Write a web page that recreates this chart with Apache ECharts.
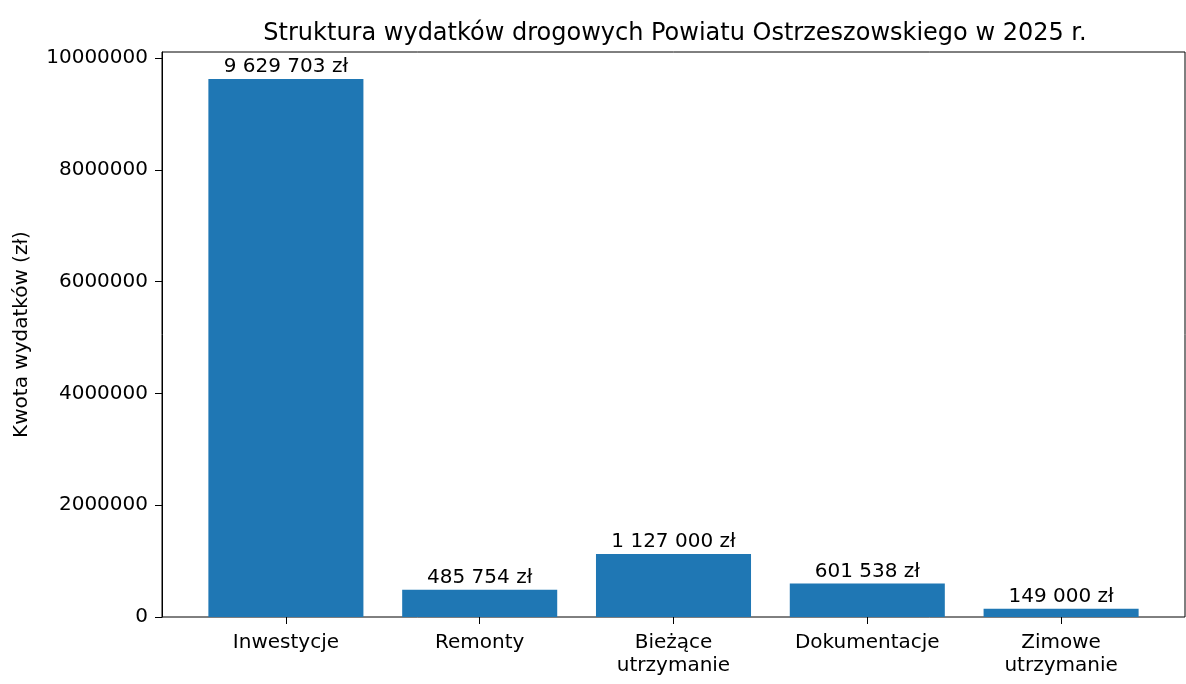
<!DOCTYPE html>
<html>
<head>
<meta charset="utf-8">
<script src="https://cdn.jsdelivr.net/npm/echarts@6/dist/echarts.min.js"></script>
<style>
  html, body { margin: 0; padding: 0; background: #fff; }
  #wydatkiChart { width: 1186px; height: 684px; }
</style>
</head>
<body>
<div id="wydatkiChart"></div>
<script>
// dane
var categories = ['Inwestycje', 'Remonty', 'Bieżące\nutrzymanie', 'Dokumentacje', 'Zimowe\nutrzymanie'];
var values = [9629703, 485754, 1127000, 601538, 149000];
var yMax = 10111188;
var yStep = 2000000;

var FONT = 'DejaVu Sans';

function zl(v) {
  return String(v).replace(/\B(?=(\d{3})+(?!\d))/g, ' ') + ' zł';
}

var chart = echarts.init(document.getElementById('wydatkiChart'));

var option = {
  animation: false,
  textStyle: { fontFamily: FONT },
  title: {
    text: 'Struktura wydatków drogowych Powiatu Ostrzeszowskiego w 2025 r.',
    left: 670,
    textAlign: 'center',
    top: 17,
    textStyle: { fontFamily: FONT, fontSize: 24, fontWeight: 'normal', color: '#000' }
  },
  grid: [
    // ramka + oś Y
    { left: 162, right: 1, top: 52, bottom: 67, show: true, borderColor: '#000', borderWidth: 1, backgroundColor: 'transparent' },
    // słupki
    { left: 189, right: 28, top: 52, bottom: 67 }
  ],
  xAxis: [
    { gridIndex: 0, type: 'value', min: 0, max: 1, show: false },
    {
      gridIndex: 1,
      type: 'category',
      data: categories,
      axisLine: { show: false },
      axisTick: { show: true, alignWithLabel: true, length: 7, lineStyle: { color: '#000', width: 1 } },
      axisLabel: { color: '#000', fontSize: 20, lineHeight: 23, margin: 14, fontFamily: FONT }
    }
  ],
  yAxis: [
    {
      gridIndex: 0,
      type: 'value',
      min: 0,
      max: yMax,
      interval: yStep,
      name: 'Kwota wydatków (zł)',
      nameLocation: 'middle',
      nameGap: 130,
      nameTextStyle: { color: '#000', fontSize: 20, fontFamily: FONT },
      axisLine: { show: true, lineStyle: { color: '#000', width: 1 } },
      axisTick: { show: true, length: 7, lineStyle: { color: '#000', width: 1 } },
      axisLabel: { color: '#000', fontSize: 20, margin: 14, fontFamily: FONT, formatter: function (v) { return String(v); } },
      splitLine: { show: false }
    },
    { gridIndex: 1, type: 'value', min: 0, max: yMax, show: false, splitLine: { show: false } }
  ],
  series: [{
    type: 'bar',
    xAxisIndex: 1,
    yAxisIndex: 1,
    data: values,
    barWidth: '80%',
    itemStyle: { color: '#1f77b4' },
    label: {
      show: true,
      position: 'top',
      distance: 2,
      color: '#000',
      fontSize: 20,
      fontFamily: FONT,
      formatter: function (p) { return zl(p.value); }
    }
  }]
};

chart.setOption(option);
</script>
</body>
</html>
